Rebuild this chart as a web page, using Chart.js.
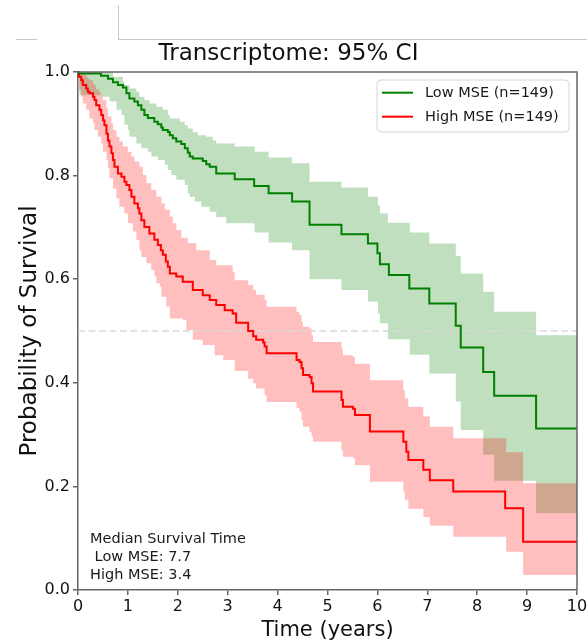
<!DOCTYPE html>
<html><head><meta charset="utf-8">
<script src="https://cdn.jsdelivr.net/npm/chart.js@4.4.0/dist/chart.umd.min.js"></script>
<style>html,body{margin:0;padding:0;background:#fff;}</style>
</head><body>
<canvas id="c" width="587" height="644"></canvas>
<script>
// ---- Data ----
const chartTitle = 'Transcriptome: 95% CI';
const seriesLabels = ['Low MSE (n=149)', 'High MSE (n=149)'];
const medianLines = ['Median Survival Time', ' Low MSE: 7.7', 'High MSE: 3.4'];
const xTicks = [0,1,2,3,4,5,6,7,8,9,10];
const yTicks = [0,0.2,0.4,0.6,0.8,1.0];

const lowTimes = [0,0.03,0.46,0.60,0.70,0.80,0.90,0.97,1.03,1.13,1.20,1.27,1.33,1.40,1.53,1.60,1.67,1.70,1.80,1.84,1.90,1.97,2.07,2.14,2.20,2.24,2.30,2.50,2.57,2.64,2.77,3.14,3.53,3.82,4.29,4.64,5.28,5.81,6.00,6.05,6.23,6.64,7.04,7.57,7.67,8.12,8.34,9.18,10];
const lowSurv  = [1,0.997,0.993,0.987,0.980,0.975,0.970,0.959,0.949,0.943,0.936,0.927,0.917,0.911,0.904,0.899,0.893,0.888,0.884,0.878,0.872,0.866,0.861,0.853,0.844,0.837,0.833,0.828,0.822,0.817,0.804,0.793,0.780,0.766,0.750,0.705,0.687,0.669,0.650,0.629,0.608,0.582,0.553,0.510,0.468,0.421,0.375,0.312,0.312];

const lowUpperTimes = [0,0.70,0.90,0.93,1.03,1.17,1.23,1.33,1.43,1.57,1.70,1.80,1.84,2.04,2.14,2.20,2.30,2.40,2.57,2.70,2.77,3.14,3.54,3.82,4.29,4.64,5.28,5.81,6.01,6.05,6.21,6.65,7.04,7.57,7.67,8.12,8.34,9.18,10];
const lowUpper      = [1,0.991,0.981,0.975,0.968,0.962,0.952,0.946,0.939,0.933,0.927,0.917,0.910,0.904,0.897,0.891,0.884,0.878,0.875,0.868,0.862,0.856,0.846,0.835,0.824,0.788,0.777,0.759,0.743,0.727,0.709,0.690,0.669,0.645,0.611,0.576,0.537,0.492,0.492];

const lowLowerTimes = [0,0.03,0.46,0.63,0.77,0.87,0.93,1.00,1.03,1.17,1.27,1.40,1.47,1.60,1.74,1.80,1.87,1.97,2.14,2.20,2.24,2.34,2.47,2.64,2.77,2.97,3.54,3.82,4.29,4.64,5.28,5.81,6.01,6.05,6.21,6.65,7.04,7.57,7.67,8.12,8.34,9.18,10];
const lowLower      = [1,0.955,0.952,0.943,0.927,0.917,0.898,0.888,0.875,0.862,0.853,0.846,0.837,0.830,0.821,0.811,0.801,0.792,0.782,0.766,0.759,0.750,0.740,0.730,0.720,0.708,0.690,0.671,0.656,0.600,0.579,0.557,0.534,0.515,0.484,0.454,0.418,0.364,0.309,0.261,0.211,0.148,0.148];

const highTimes = [0,0.02,0.064,0.097,0.164,0.197,0.23,0.30,0.33,0.365,0.43,0.465,0.50,0.53,0.57,0.60,0.63,0.67,0.70,0.73,0.80,0.87,0.93,0.97,1.03,1.07,1.13,1.20,1.23,1.27,1.33,1.43,1.53,1.60,1.66,1.70,1.76,1.80,1.84,1.97,2.10,2.30,2.50,2.64,2.77,2.94,3.10,3.17,3.41,3.51,3.57,3.71,3.74,3.78,4.38,4.44,4.48,4.51,4.64,4.68,4.71,5.28,5.31,5.51,5.55,5.85,6.52,6.58,6.62,6.92,7.05,7.52,8.56,8.92,10];
const highSurv  = [1,0.991,0.984,0.975,0.968,0.962,0.959,0.952,0.946,0.936,0.927,0.917,0.907,0.897,0.881,0.868,0.856,0.843,0.830,0.817,0.804,0.798,0.788,0.782,0.772,0.759,0.746,0.737,0.727,0.714,0.701,0.688,0.676,0.666,0.656,0.647,0.634,0.624,0.611,0.605,0.595,0.579,0.569,0.560,0.550,0.540,0.534,0.516,0.500,0.490,0.483,0.478,0.470,0.457,0.444,0.440,0.428,0.415,0.411,0.399,0.383,0.367,0.354,0.350,0.338,0.306,0.286,0.267,0.251,0.232,0.212,0.190,0.158,0.093,0.093];

const highUpperTimes = [0,0.064,0.097,0.164,0.197,0.23,0.30,0.33,0.365,0.43,0.465,0.50,0.57,0.60,0.67,0.70,0.77,0.83,0.90,1.00,1.07,1.13,1.23,1.30,1.37,1.47,1.57,1.67,1.74,1.84,1.90,1.97,2.07,2.20,2.37,2.64,2.77,3.10,3.14,3.41,3.51,3.57,3.74,3.78,4.38,4.44,4.48,4.51,4.64,4.68,4.71,5.28,5.31,5.51,5.55,5.85,6.52,6.55,6.62,6.92,7.05,7.52,8.58,8.92,10];
const highUpper      = [1,0.998,0.995,0.991,0.987,0.984,0.978,0.974,0.966,0.960,0.952,0.946,0.930,0.914,0.901,0.888,0.875,0.866,0.856,0.846,0.837,0.827,0.817,0.801,0.785,0.772,0.759,0.746,0.734,0.721,0.708,0.695,0.680,0.670,0.656,0.637,0.627,0.614,0.598,0.589,0.579,0.570,0.560,0.547,0.537,0.531,0.518,0.508,0.505,0.492,0.479,0.466,0.453,0.450,0.437,0.405,0.386,0.370,0.354,0.335,0.315,0.293,0.266,0.206,0.206];

const highLowerTimes = [0,0.02,0.064,0.097,0.164,0.23,0.30,0.33,0.40,0.465,0.50,0.57,0.60,0.63,0.70,0.77,0.83,0.93,1.00,1.10,1.17,1.23,1.27,1.37,1.47,1.53,1.57,1.64,1.67,1.77,1.84,2.10,2.17,2.30,2.50,2.74,2.91,3.14,3.41,3.51,3.57,3.74,3.78,4.38,4.44,4.48,4.51,4.64,4.68,4.71,5.28,5.31,5.51,5.55,5.85,6.52,6.55,6.62,6.92,7.05,7.52,8.58,8.92,10];
const highLower      = [1,0.965,0.952,0.939,0.927,0.910,0.901,0.888,0.875,0.862,0.846,0.830,0.814,0.795,0.775,0.756,0.740,0.727,0.708,0.692,0.676,0.656,0.643,0.631,0.618,0.605,0.592,0.586,0.566,0.547,0.524,0.521,0.502,0.483,0.473,0.453,0.444,0.423,0.408,0.399,0.389,0.376,0.363,0.351,0.344,0.328,0.315,0.305,0.296,0.286,0.270,0.257,0.254,0.241,0.209,0.190,0.174,0.157,0.141,0.124,0.103,0.074,0.029,0.029];

const refLineX = [0, 10];
const refLineY = [0.5, 0.5];

// ---- helpers ----
const FONT = "'DejaVu Sans', 'Liberation Sans', sans-serif";
const xy = (ts, vs) => ts.map((t, i) => ({x: t, y: vs[i]}));
const GREEN = 'rgb(0,128,0)';
const RED = 'rgb(255,0,0)';

const extras = {
  id: 'extras',
  afterDraw(chart) {
    const ctx = chart.ctx;
    const a = chart.chartArea;
    ctx.save();
    // frame (top/right spines)
    ctx.strokeStyle = '#666';
    ctx.lineWidth = 1.5;
    ctx.beginPath();
    ctx.moveTo(a.left, a.top); ctx.lineTo(a.right, a.top); ctx.lineTo(a.right, a.bottom);
    ctx.stroke();
    // screenshot artifacts at the top
    ctx.strokeStyle = '#c8c8c8';
    ctx.lineWidth = 1;
    ctx.beginPath();
    ctx.moveTo(16, 39.5); ctx.lineTo(37, 39.5);
    ctx.moveTo(118, 39.5); ctx.lineTo(587, 39.5);
    ctx.moveTo(118.5, 5); ctx.lineTo(118.5, 39.5);
    ctx.stroke();
    // legend box
    const bx = 377, by = 80, bw = 192, bh = 52, r = 4;
    ctx.fillStyle = 'rgba(255,255,255,0.85)';
    ctx.strokeStyle = '#d6d6d6';
    ctx.lineWidth = 1;
    ctx.beginPath();
    ctx.moveTo(bx + r, by); ctx.lineTo(bx + bw - r, by); ctx.arcTo(bx + bw, by, bx + bw, by + r, r);
    ctx.lineTo(bx + bw, by + bh - r); ctx.arcTo(bx + bw, by + bh, bx + bw - r, by + bh, r);
    ctx.lineTo(bx + r, by + bh); ctx.arcTo(bx, by + bh, bx, by + bh - r, r);
    ctx.lineTo(bx, by + r); ctx.arcTo(bx, by, bx + r, by, r);
    ctx.closePath(); ctx.fill(); ctx.stroke();
    const cols = [GREEN, RED];
    const ys = [92.7, 116.7];
    ctx.font = '14.5px ' + FONT;
    ctx.textBaseline = 'middle';
    ctx.textAlign = 'left';
    seriesLabels.forEach((lab, i) => {
      ctx.strokeStyle = cols[i];
      ctx.lineWidth = 2;
      ctx.beginPath(); ctx.moveTo(382, ys[i]); ctx.lineTo(413, ys[i]); ctx.stroke();
      ctx.fillStyle = '#1a1a1a';
      ctx.fillText(lab, 425, ys[i] + 0.5);
    });
    // median text
    ctx.textBaseline = 'alphabetic';
    ctx.font = '14.5px ' + FONT;
    ctx.fillStyle = '#1a1a1a';
    medianLines.forEach((t, i) => ctx.fillText(t, 90, 543 + i * 18));
    ctx.restore();
  }
};

const common = {pointRadius: 0, pointHoverRadius: 0, stepped: 'before', tension: 0};

new Chart(document.getElementById('c'), {
  type: 'line',
  data: {
    datasets: [
      Object.assign({label: seriesLabels[0], data: xy(lowTimes, lowSurv), borderColor: GREEN, borderWidth: 2, fill: false, order: 0, clip: 3}, common),
      Object.assign({label: seriesLabels[1], data: xy(highTimes, highSurv), borderColor: RED, borderWidth: 2, fill: false, order: 0, clip: 3}, common),
      Object.assign({label: 'median', data: xy(refLineX, refLineY), borderColor: '#d9d9d9', borderWidth: 1.5, borderDash: [7, 3.5], fill: false, order: 1}, common),
      Object.assign({label: 'low upper', data: xy(lowUpperTimes, lowUpper), borderColor: 'rgba(0,128,0,0)', borderWidth: 0, backgroundColor: 'rgba(0,128,0,0.25)', fill: '+1', order: 3}, common),
      Object.assign({label: 'low lower', data: xy(lowLowerTimes, lowLower), borderColor: 'rgba(0,128,0,0)', borderWidth: 0, fill: false, order: 3}, common),
      Object.assign({label: 'high upper', data: xy(highUpperTimes, highUpper), borderColor: 'rgba(255,0,0,0)', borderWidth: 0, backgroundColor: 'rgba(255,0,0,0.25)', fill: '+1', order: 2}, common),
      Object.assign({label: 'high lower', data: xy(highLowerTimes, highLower), borderColor: 'rgba(255,0,0,0)', borderWidth: 0, fill: false, order: 2}, common)
    ]
  },
  options: {
    responsive: false,
    animation: false,
    events: [],
    layout: {padding: {left: 0, right: 10, top: 0, bottom: 0}},
    plugins: {
      legend: {display: false},
      tooltip: {enabled: false},
      title: {display: true, text: chartTitle, color: '#111', font: {family: FONT, size: 23, weight: 'normal'}, padding: {top: 40.5, bottom: 3.9}},
      filler: {propagate: false}
    },
    scales: {
      x: {
        type: 'linear', min: 0, max: 10,
        afterBuildTicks: s => { s.ticks = xTicks.map(v => ({value: v})); },
        ticks: {color: '#111', font: {family: FONT, size: 16}, padding: 2, maxRotation: 0, autoSkip: false},
        grid: {drawOnChartArea: false, drawTicks: true, tickLength: 5, color: '#666', lineWidth: 1.5},
        border: {display: true, color: '#666', width: 1.5},
        title: {display: true, text: 'Time (years)', color: '#111', font: {family: FONT, size: 21}, padding: {top: 0, bottom: 1}},
        afterFit: s => { s.height = 54; s.paddingLeft = 0; s.paddingRight = 0; }
      },
      y: {
        type: 'linear', min: 0, max: 1,
        afterBuildTicks: s => { s.ticks = yTicks.map(v => ({value: v})); },
        ticks: {color: '#111', font: {family: FONT, size: 16}, padding: 3, callback: v => v.toFixed(1)},
        grid: {drawOnChartArea: false, drawTicks: true, tickLength: 5, color: '#666', lineWidth: 1.5},
        border: {display: true, color: '#666', width: 1.5},
        title: {display: true, text: 'Probability of Survival', color: '#111', font: {family: FONT, size: 23}, padding: {top: 16, bottom: 0}},
        afterFit: s => { s.width = 78; s.paddingTop = 0; s.paddingBottom = 0; }
      }
    }
  },
  plugins: [extras]
});
</script>
</body></html>
